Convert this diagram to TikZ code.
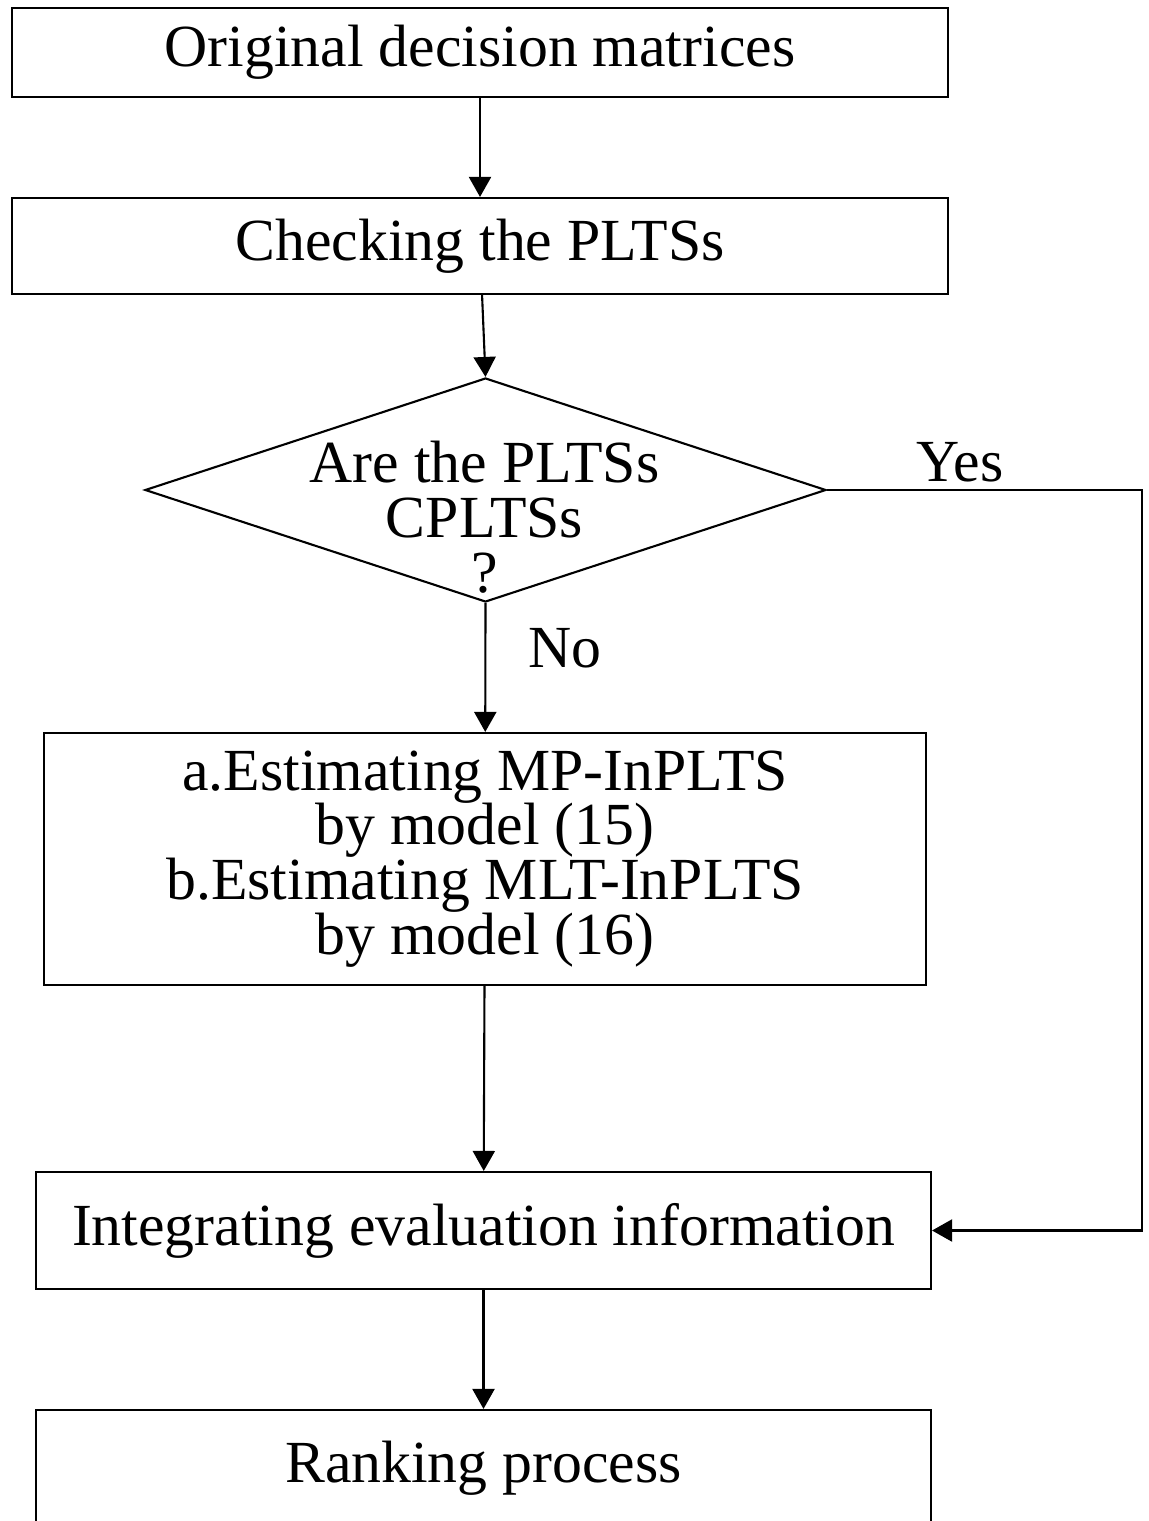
\documentclass[tikz,border=0pt]{standalone}
\usepackage{fontspec}
\setmainfont{Liberation Serif}
\usepackage{tikz}
\usetikzlibrary{positioning,arrows.meta,shapes.geometric,calc}
\tikzset{
  procbox/.style={rectangle,draw=black,line width=0.6pt,align=center,inner sep=0pt},
  decision/.style={diamond,draw=black,line width=0.6pt,inner sep=0pt,minimum width=6.81cm,minimum height=2.24cm},
  plain/.style={align=center,inner sep=0pt},
  edge/.style={-{Triangle[length=2mm,width=2.2mm]},line width=0.6pt}
}

\begin{document}
\begin{tikzpicture}[font=\fontsize{17pt}{15.6pt}\selectfont]
  \clip (0,0) rectangle (11.48,-15.21);
  \node[procbox,minimum width=9.36cm,minimum height=0.89cm] (orig) at (4.80,-0.525) {Original decision matrices};
  \node[procbox,minimum width=9.36cm,minimum height=0.96cm] (check) at (4.80,-2.46) {Checking the PLTSs};
  \node[decision] (dec) at (4.855,-4.90) {};
  \node[plain] (dectext) at (4.845,-5.17) {Are the PLTSs\\CPLTSs\\?};
  \node[procbox,minimum width=8.82cm,minimum height=2.52cm] (estim) at (4.85,-8.59)
    {a.Estimating MP-InPLTS\\by model (15)\\b.Estimating MLT-InPLTS\\by model (16)};
  \node[procbox,minimum width=8.95cm,minimum height=1.17cm] (integ) at (4.835,-12.305) {Integrating evaluation information};
  \node[procbox,minimum width=8.95cm,minimum height=1.16cm] (rank) at (4.835,-14.68) {Ranking process};
  \node[plain] (yes) at (9.60,-4.62) {Yes};
  \node[plain] (no) at (5.65,-6.48) {No};
  \coordinate (yescorner) at (11.42,-4.90);
  \draw[edge] (orig) -- (check);
  \draw[edge] (check) -- (dec.north);
  \draw[edge] (dec.south) -- (estim);
  \draw[edge] (estim) -- (integ);
  \draw[edge] (integ) -- (rank);
  \draw[edge] (dec.east) -- (yescorner) |- (integ.east);
\end{tikzpicture}
\end{document}
